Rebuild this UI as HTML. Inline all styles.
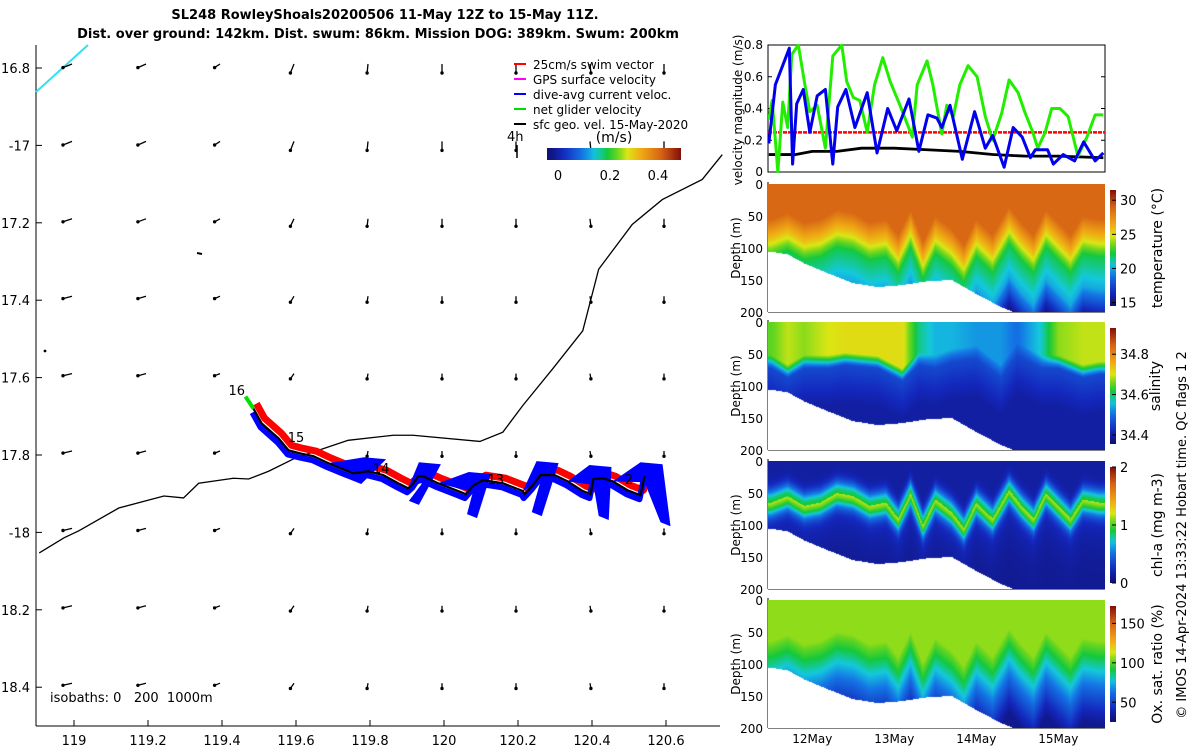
<!DOCTYPE html>
<html><head><meta charset="utf-8">
<style>
body{margin:0;background:#fff;}
#root{position:relative;width:1200px;height:750px;overflow:hidden;font-family:"Liberation Sans","DejaVu Sans",sans-serif;}
svg text{font-family:"DejaVu Sans","Liberation Sans",sans-serif;}
canvas{position:absolute;}
</style></head>
<body>
<div id="root">
<svg id="svg" width="1200" height="750" style="position:absolute;left:0;top:0">
<text x="385" y="19" text-anchor="middle" font-size="13" font-weight="bold">SL248 RowleyShoals20200506 11-May 12Z to 15-May 11Z.</text>
<text x="378" y="38" text-anchor="middle" font-size="13" font-weight="bold">Dist. over ground: 142km. Dist. swum: 86km. Mission DOG: 389km. Swum: 200km</text>
<g id="map"></g>
<g id="vel"></g>
<g id="sec"></g>
<text transform="translate(1186,535) rotate(-90)" text-anchor="middle" font-size="13">© IMOS 14-Apr-2024 13:33:22 Hobart time. QC flags 1  2</text>
</svg>
<canvas id="c0" width="337" height="128" style="left:768px;top:184px"></canvas>
<canvas id="c1" width="337" height="128" style="left:768px;top:322px"></canvas>
<canvas id="c2" width="337" height="128" style="left:768px;top:461px"></canvas>
<canvas id="c3" width="337" height="128" style="left:768px;top:600px"></canvas>
</div>
<script>
// ---------- data ----------
const blueT=[11.47,11.55,11.72,11.76,11.81,11.89,11.97,12.06,12.16,12.25,12.31,12.41,12.52,12.67,12.79,12.92,13.03,13.18,13.30,13.41,13.52,13.58,13.68,13.83,13.98,14.11,14.20,14.34,14.45,14.56,14.66,14.72,14.87,14.94,15.06,15.20,15.31,15.45,15.55];
const blueV=[0.18,0.55,0.78,0.05,0.43,0.52,0.25,0.48,0.52,0.05,0.41,0.52,0.28,0.50,0.12,0.40,0.26,0.46,0.13,0.36,0.34,0.28,0.42,0.08,0.38,0.15,0.23,0.03,0.28,0.22,0.09,0.14,0.14,0.05,0.11,0.07,0.19,0.07,0.12];
const greenT=[11.47,11.51,11.55,11.58,11.64,11.70,11.75,11.83,11.91,11.97,12.06,12.16,12.25,12.36,12.42,12.50,12.58,12.67,12.76,12.86,12.95,13.07,13.22,13.28,13.40,13.47,13.58,13.64,13.72,13.80,13.90,14.01,14.11,14.20,14.31,14.40,14.51,14.59,14.69,14.75,14.84,14.92,15.02,15.12,15.24,15.35,15.45,15.55];
const greenV=[0.33,0.45,0.20,0.00,0.44,0.28,0.74,0.80,0.55,0.38,0.42,0.15,0.73,0.80,0.57,0.47,0.45,0.25,0.55,0.72,0.57,0.42,0.22,0.55,0.70,0.55,0.24,0.42,0.35,0.55,0.67,0.60,0.35,0.20,0.37,0.58,0.50,0.38,0.25,0.15,0.25,0.40,0.40,0.35,0.10,0.22,0.36,0.36];
const geoT=[11.47,11.8,12.0,12.3,12.6,13.0,13.4,13.8,14.2,14.6,15.0,15.55];
const geoV=[0.11,0.11,0.13,0.13,0.15,0.15,0.14,0.13,0.11,0.10,0.10,0.09];
const swimV=0.25;
const velTicks=[0,0.2,0.4,0.6,0.8];
const dayTicks=[12,13,14,15];
const dayLabels=["12May","13May","14May","15May"];
const depthTicks=[0,50,100,150,200];
// section fields
const secT=[11.5,11.7,11.9,12.1,12.3,12.5,12.7,12.9,13.05,13.2,13.35,13.5,13.7,13.85,14.0,14.2,14.4,14.55,14.7,14.85,15.0,15.15,15.3,15.5];
const thermoDepth=[85,75,90,85,70,75,90,85,110,70,120,80,100,125,85,110,65,90,110,70,90,110,80,85];
const bottomT=[11.5,11.7,11.9,12.2,12.5,12.8,13.1,13.4,13.7,14.0,14.3,14.45,15.5];
const bottomDepth=[106,110,124,140,155,161,158,152,150,172,192,200,200];
const haloT=[11.5,11.7,11.9,12.2,12.4,12.8,13.1,13.3,13.5,13.7,14.0,14.3,14.5,14.8,15.0,15.3,15.5];
const haloDepth=[60,75,60,60,55,60,80,55,60,50,45,75,40,60,60,75,70];
const surfSal=[34.65,34.69,34.67,34.70,34.71,34.71,34.71,34.59,34.55,34.55,34.53,34.53,34.50,34.57,34.67,34.69,34.69];
const tempRange=[14.5,31.5], salRange=[34.355,34.93], chlRange=[0,2], oxyRange=[25,172];
// map data
const gridLon=[119,119.2,119.4,119.6,119.8,120,120.2,120.4,120.6];
const gridLat=[-16.8,-17,-17.2,-17.4,-17.6,-17.8,-18,-18.2,-18.4];
const colU=[-0.10,-0.09,-0.06,-0.04,-0.01,0.0,0.0,0.01,0.0];
const rowV=[-0.06,-0.06,-0.05,-0.04,-0.035,-0.035,-0.035,-0.035,-0.035];
const isoLon=[118.906,118.973,119.013,119.121,119.243,119.296,119.337,119.431,119.472,119.526,119.598,119.741,119.863,119.916,120.097,120.159,120.213,120.294,120.375,120.418,120.509,120.590,120.698,120.752];
const isoLat=[-18.053,-18.014,-17.996,-17.937,-17.906,-17.911,-17.873,-17.860,-17.862,-17.842,-17.808,-17.762,-17.749,-17.749,-17.765,-17.741,-17.672,-17.577,-17.479,-17.320,-17.204,-17.140,-17.088,-17.024];
const trackLon=[119.485,119.507,119.553,119.580,119.612,119.647,119.687,119.733,119.755,119.795,119.836,119.876,119.903,119.916,119.930,119.943,119.984,120.038,120.059,120.078,120.105,120.159,120.213,120.218,120.240,120.261,120.299,120.334,120.375,120.396,120.404,120.429,120.456,120.496,120.531,120.542];
const trackLat=[-17.680,-17.718,-17.757,-17.788,-17.796,-17.803,-17.821,-17.839,-17.847,-17.842,-17.852,-17.873,-17.886,-17.875,-17.855,-17.855,-17.873,-17.893,-17.901,-17.880,-17.865,-17.873,-17.893,-17.901,-17.878,-17.852,-17.852,-17.868,-17.893,-17.901,-17.862,-17.860,-17.868,-17.891,-17.904,-17.855];
const finBase=[9,15,19,25,30,35];
const finTipLon=[119.760,119.916,120.073,120.248,120.429,120.596];
const finTipLat=[-17.875,-17.929,-17.963,-17.958,-17.968,-17.984];
const dayMarkLon=[119.44,119.60,119.83,120.14,120.50];
const dayMarkLat=[-17.645,-17.767,-17.847,-17.875,-17.875];
const dayMarkText=["16","15","14","13","2"];

// ---------- helpers ----------
const NS="http://www.w3.org/2000/svg";
function mk(parent,tag,attrs,text){const e=document.createElementNS(NS,tag);for(const k in attrs)e.setAttribute(k,attrs[k]);if(text!==undefined)e.textContent=text;parent.appendChild(e);return e;}
function interp(xs,ys,x){if(x<=xs[0])return ys[0];for(let i=1;i<xs.length;i++){if(x<=xs[i]){const f=(x-xs[i-1])/(xs[i]-xs[i-1]);return ys[i-1]+f*(ys[i]-ys[i-1]);}}return ys[ys.length-1];}
const stops=[[0,15,15,110],[0.12,20,40,190],[0.27,20,120,230],[0.36,20,200,220],[0.45,20,200,60],[0.53,110,215,30],[0.6,220,230,20],[0.7,240,170,20],[0.85,215,100,20],[1,130,15,10]];
function cmap(f){f=Math.max(0,Math.min(1,f));for(let i=1;i<stops.length;i++){if(f<=stops[i][0]){const a=stops[i-1],b=stops[i],g=(f-a[0])/(b[0]-a[0]);return [a[1]+g*(b[1]-a[1]),a[2]+g*(b[2]-a[2]),a[3]+g*(b[3]-a[3])].map(Math.round);}}return [130,15,10];}

// ---------- map ----------
const mapG=document.getElementById('map');
const lonX=l=>74+(l-119)*370;
const latY=l=>68+(-16.8-l)*387;
mk(mapG,'line',{x1:36,y1:45,x2:36,y2:726,stroke:'#000','stroke-width':1});
mk(mapG,'line',{x1:36,y1:726,x2:720,y2:726,stroke:'#000','stroke-width':1});
const latLab=["16.8","-17","17.2","17.4","17.6","17.8","-18","18.2","18.4"];
gridLat.forEach((la,i)=>{const y=latY(la);mk(mapG,'line',{x1:36,y1:y,x2:42,y2:y,stroke:'#000'});
 const t=mk(mapG,'text',{x:30,y:y+5,'text-anchor':'end','font-size':13},latLab[i]);
 });
gridLon.forEach(lo=>{const x=lonX(lo);mk(mapG,'line',{x1:x,y1:726,x2:x,y2:720,stroke:'#000'});
 const t=mk(mapG,'text',{x:x,y:745,'text-anchor':'middle','font-size':13},String(lo));
 });
const cy=mk(mapG,'line',{x1:36,y1:92,x2:88,y2:45,stroke:'#33e0f0','stroke-width':2});

const iso=mk(mapG,'polyline',{points:isoLon.map((l,i)=>lonX(l)+','+latY(isoLat[i])).join(' '),fill:'none',stroke:'#000','stroke-width':1.3});

gridLat.forEach((la,j)=>gridLon.forEach((lo,i)=>{
 const x=lonX(lo)-2,y=latY(la)-4;const u=colU[i]*90,v=-rowV[j]*150*(Math.abs(colU[i])>0.05?0.4:1);
 const g=mk(mapG,'g',{});
 mk(g,'line',{x1:x,y1:y,x2:x+u,y2:y+v,stroke:'#000','stroke-width':1.3});
 mk(g,'circle',{cx:x+u,cy:y+v,r:1.7,fill:'#000'});
}));
mk(mapG,'circle',{cx:45,cy:351,r:1.4,fill:'#000'});
mk(mapG,'line',{x1:197,y1:253,x2:202,y2:254,stroke:'#000','stroke-width':2});
const tp=trackLon.map((l,i)=>[lonX(l),latY(trackLat[i])]);
const ptsOff=(dx,dy)=>tp.map(p=>(p[0]+dx)+','+(p[1]+dy)).join(' ');
const red=mk(mapG,'polyline',{points:ptsOff(3,-5),fill:'none',stroke:'#ff0000','stroke-width':7,'stroke-linejoin':'round'});

finBase.forEach((bi,k)=>{const a=tp[Math.max(0,bi-3)],b=tp[bi];const tx2=lonX(finTipLon[k]),ty=latY(finTipLat[k]);
 const f=mk(mapG,'polygon',{points:`${a[0]},${a[1]} ${b[0]-4},${b[1]-14} ${b[0]+18},${b[1]-12} ${tx2+6},${ty} ${tx2-4},${ty-4} ${b[0]},${b[1]+6}`,fill:'#0000ff'});
 });
const blu=mk(mapG,'polyline',{points:ptsOff(-1,4),fill:'none',stroke:'#0000ff','stroke-width':6,'stroke-linejoin':'round'});

mk(mapG,'line',{x1:tp[0][0],y1:tp[0][1],x2:tp[0][0]-8,y2:tp[0][1]-12,stroke:'#00e000','stroke-width':4});
const trk=mk(mapG,'polyline',{points:ptsOff(0,0),fill:'none',stroke:'#000','stroke-width':2.2});

dayMarkLon.forEach((l,i)=>{const t=mk(mapG,'text',{x:lonX(l),y:latY(dayMarkLat[i]),'font-size':13,'text-anchor':'middle'},dayMarkText[i]);
 });
const isoT=mk(mapG,'text',{x:50,y:702,'font-size':13,'style':'white-space:pre'},'isobaths: 0   200  1000m');
const leg=mk(mapG,'g',{});
const legItems=[['25cm/s swim vector','#ff0000'],['GPS surface velocity','#ff00ff'],['dive-avg current veloc.','#0000ff'],['net glider velocity','#00e000'],['sfc geo. vel. 15-May-2020','#000']];
legItems.forEach((it,i)=>{const y=64+i*15;const g=mk(leg,'g',{});
 mk(g,'line',{x1:514,y1:y,x2:526,y2:y,stroke:it[1],'stroke-width':2});mk(g,'text',{x:533,y:y+5,'font-size':12},it[0]);});
mk(leg,'text',{x:507,y:141,'font-size':13},'4h');
mk(leg,'line',{x1:517,y1:145,x2:517,y2:158,stroke:'#000','stroke-width':1.5});
mk(leg,'text',{x:614,y:142,'font-size':14,'text-anchor':'middle'},'(m/s)');
const defs=mk(document.getElementById('svg'),'defs',{});
const lg=mk(defs,'linearGradient',{id:'cbh',x1:0,x2:1,y1:0,y2:0});
for(let k=0;k<=20;k++){const c=cmap(k/20);mk(lg,'stop',{offset:k/20,'stop-color':`rgb(${c})`});}
const lgv=mk(defs,'linearGradient',{id:'cbv',x1:0,x2:0,y1:1,y2:0});
for(let k=0;k<=20;k++){const c=cmap(k/20);mk(lgv,'stop',{offset:k/20,'stop-color':`rgb(${c})`});}
mk(leg,'rect',{x:547,y:148,width:134,height:12,fill:'url(#cbh)'});
[['0',558],['0.2',610],['0.4',658]].forEach(a=>mk(leg,'text',{x:a[1],y:180,'font-size':13,'text-anchor':'middle'},a[0]));

// ---------- velocity panel ----------
const vel=document.getElementById('vel');
const X0=768,X1=1105,D0=11.46,D1=15.57;
const tx=t=>X0+(t-D0)/(D1-D0)*(X1-X0);
const vy=v=>172-v/0.8*127;
const cp=mk(defs,'clipPath',{id:'vclip'});mk(cp,'rect',{x:X0,y:44,width:X1-X0,height:129});
mk(vel,'rect',{x:X0,y:45,width:X1-X0,height:127,fill:'none',stroke:'#000'});
velTicks.forEach(v=>{mk(vel,'line',{x1:X0,y1:vy(v),x2:X0+4,y2:vy(v),stroke:'#000'});mk(vel,'line',{x1:X1,y1:vy(v),x2:X1-4,y2:vy(v),stroke:'#000'});
 const t=mk(vel,'text',{x:763,y:vy(v)+4,'text-anchor':'end','font-size':12},String(v));});
mk(vel,'text',{transform:'translate(742,110) rotate(-90)','text-anchor':'middle','font-size':12},'velocity magnitude (m/s)');
const cl=mk(vel,'g',{'clip-path':'url(#vclip)'});
const drawLine=(T,V,col,w,name,dash)=>{const p=mk(cl,'polyline',{points:T.map((t,i)=>tx(t)+','+vy(V[i])).join(' '),fill:'none',stroke:col,'stroke-width':w,'stroke-linejoin':'round'});if(dash)p.setAttribute('stroke-dasharray',dash);};
drawLine([D0,D1],[swimV,swimV],'#ff0000',2.5,'swim-speed-line','4 1');
drawLine(geoT,geoV,'#000',2.8,'geo-velocity-line');
drawLine(greenT,greenV,'#22ee00',3,'net-velocity-line');
drawLine(blueT,blueV,'#0000ee',3,'current-velocity-line');

// ---------- sections ----------
const sec=document.getElementById('sec');
const panels=[{top:184,title:'temperature (°C)',range:tempRange,ticks:[15,20,25,30],name:'temperature'},
 {top:322,title:'salinity',range:salRange,ticks:[34.4,34.6,34.8],name:'salinity'},
 {top:461,title:'chl-a (mg m-3)',range:chlRange,ticks:[0,1,2],name:'chla'},
 {top:600,title:'Ox. sat. ratio (%)',range:oxyRange,ticks:[50,100,150],name:'oxygen'}];
function val(p,t,z){const m=interp(secT,thermoDepth,t);
 if(p===0){if(z<m-30)return 28.8;if(z<m)return 28.8-(z-m+30)/30*3.0;if(z<m+30)return 25.8-(z-m)/30*3.8;if(z<m+80)return 22-(z-m-30)/50*2;return Math.max(15,20-(z-m-80)/40*4);}
 if(p===1){const h=interp(haloT,haloDepth,t),s0=interp(haloT,surfSal,t);if(z<h-8)return s0;if(z<h+12)return s0+(z-h+8)/20*(34.46-s0);return 34.46-Math.min(1,(z-h-12)/60)*0.06;}
 if(p===2){const d=m-20;return 0.1+0.75*Math.exp(-Math.pow((z-d)/20,2))+(z>d?0.3*Math.exp(-(z-d)/40):0.05);}
 if(z<m-20)return 106;if(z<m+10)return 106-(z-m+20)/30*18;if(z<m+60)return 88-(z-m-10)/50*30;return Math.max(32,58-(z-m-60)/50*26);}
panels.forEach((P,pi)=>{
 const cv=document.getElementById('c'+pi),ctx=cv.getContext('2d'),img=ctx.createImageData(337,128);
 for(let c=0;c<337;c++){const t=D0+(c+0.5)/337*(D1-D0);const bd=interp(bottomT,bottomDepth,t);
  for(let r=0;r<128;r++){const z=(r+0.5)/128*200;const k=(r*337+c)*4;
   if(z>bd){img.data[k]=255;img.data[k+1]=255;img.data[k+2]=255;img.data[k+3]=255;continue;}
   const col=cmap((val(pi,t,z)-P.range[0])/(P.range[1]-P.range[0]));img.data[k]=col[0];img.data[k+1]=col[1];img.data[k+2]=col[2];img.data[k+3]=255;}}
 ctx.putImageData(img,0,0);
 const top=P.top,dy=z=>top+z/200*128;
 mk(sec,'line',{x1:X0,y1:top-2,x2:X0,y2:dy(200),stroke:'#000'});
 mk(sec,'line',{x1:X0,y1:dy(200),x2:X1,y2:dy(200),stroke:'#000'});
 depthTicks.forEach(z=>{const t=mk(sec,'text',{x:763,y:dy(z)+5,'text-anchor':'end','font-size':12},String(z));});
 const yt=mk(sec,'text',{transform:`translate(740,${dy(100)}) rotate(-90)`,'text-anchor':'middle','font-size':12},'Depth (m)');
 const cb0=top+6,cb1=top+122,cby=v=>cb1-(v-P.range[0])/(P.range[1]-P.range[0])*(cb1-cb0);
 const cb=mk(sec,'rect',{x:1110,y:cb0,width:6,height:cb1-cb0,fill:'url(#cbv)'});
 P.ticks.forEach(v=>{mk(sec,'line',{x1:1116,y1:cby(v),x2:1112,y2:cby(v),stroke:'#000'});mk(sec,'text',{x:1120,y:cby(v)+5,'font-size':13},String(v));});
 const ct=mk(sec,'text',{transform:`translate(${pi===1?1160:1162},${top+64}) rotate(-90)`,'text-anchor':'middle','font-size':14},P.title);
});
dayTicks.forEach((d,i)=>{mk(sec,'line',{x1:tx(d),y1:727,x2:tx(d),y2:723,stroke:'#000'});
 const t=mk(sec,'text',{x:tx(d),y:743,'text-anchor':'middle','font-size':12},dayLabels[i]);});
</script>
</body></html>
